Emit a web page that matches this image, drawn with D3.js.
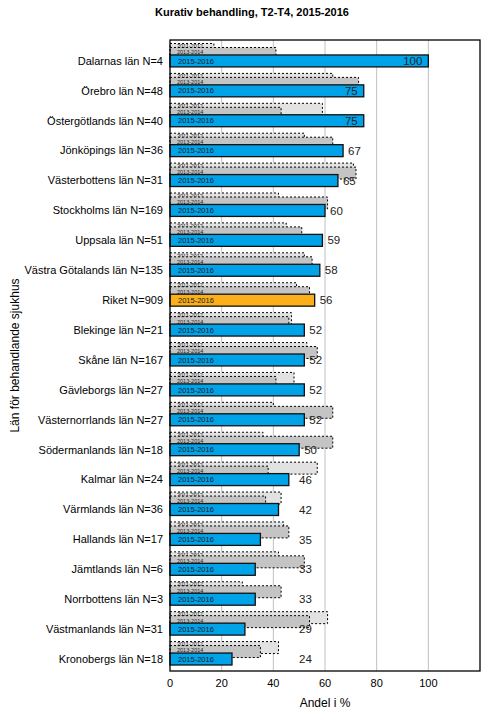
<!DOCTYPE html>
<html><head><meta charset="utf-8">
<script src="https://cdn.jsdelivr.net/npm/d3@7"></script>
<style>body{margin:0;background:#fff}svg{display:block}text{font-family:"Liberation Sans",Arial,sans-serif}</style>
</head><body>
<script>
const categories = ["Dalarnas län N=4","Örebro län N=48","Östergötlands län N=40","Jönköpings län N=36","Västerbottens län N=31","Stockholms län N=169","Uppsala län N=51","Västra Götalands län N=135","Riket N=909","Blekinge län N=21","Skåne län N=167","Gävleborgs län N=27","Västernorrlands län N=27","Södermanlands län N=18","Kalmar län N=24","Värmlands län N=36","Hallands län N=17","Jämtlands län N=6","Norrbottens län N=3","Västmanlands län N=31","Kronobergs län N=18"];
const v2011 = [17,63,59,52,71,42,45,52,49,47,53,48,40,36,57,43,44,42,28,61,42];
const v2013 = [41,73,43,63,72,61,51,55,54,46,57,41,63,63,38,37,46,52,43,54,35];
const v2015 = [100,75,75,67,65,60,59,58,56,52,52,52,52,50,46,42,35,33,33,29,24];
const seriesNames = ["2011-2012","2013-2014","2015-2016"];
const xTicks = [0,20,40,60,80,100];
const title = "Kurativ behandling, T2-T4, 2015-2016";
const xTitle = "Andel i %";
const yTitle = "Län för behandlande sjukhus";

const W = 504, H = 720;
const L = 170, R = 480, T = 40, B = 671;
const svg = d3.select("body").append("svg").attr("width", W).attr("height", H);

const x = d3.scaleLinear().domain([0,120]).range([L, R]);
const y = d3.scaleBand().domain(categories).range([T, 668]).paddingInner(0.2).paddingOuter(0.1);
const sub = d3.scaleBand().domain(seriesNames).range([0, y.bandwidth()]);
const barH = y.bandwidth() / 2;

// gridlines
svg.append("g").selectAll("line").data(xTicks.filter(d => d > 0)).join("line")
  .attr("x1", d => x(d)).attr("x2", d => x(d)).attr("y1", T).attr("y2", B)
  .attr("stroke", "#c0c0c0").attr("stroke-width", 1);

const rows = categories.map((c, i) => ({c, a: v2011[i], b: v2013[i], v: v2015[i]}));
const g = svg.append("g");
const grp = g.selectAll("g").data(rows).join("g").attr("transform", d => `translate(0,${y(d.c)})`);

// 2011-2012
grp.append("rect").attr("x", x(0)).attr("y", 0.5)
  .attr("width", d => x(d.a) - x(0)).attr("height", barH)
  .attr("fill", "#e2e2e2").attr("stroke", "#000").attr("stroke-width", 1).attr("stroke-dasharray", "2,2");
grp.append("text").attr("x", x(0) + 7).attr("y", 5.2).text(seriesNames[0])
  .attr("font-size", 5.5).attr("fill", "#222");
// 2013-2014
grp.append("rect").attr("x", x(0)).attr("y", sub.bandwidth() * 0.5 + 0.5)
  .attr("width", d => x(d.b) - x(0)).attr("height", barH)
  .attr("fill", "#c4c4c4").attr("stroke", "#000").attr("stroke-width", 1).attr("stroke-dasharray", "2,2");
grp.append("text").attr("x", x(0) + 7).attr("y", 11.4).text(seriesNames[1])
  .attr("font-size", 5.5).attr("fill", "#222");
// 2015-2016
grp.append("rect").attr("x", x(0)).attr("y", barH)
  .attr("width", d => x(d.v) - x(0)).attr("height", barH)
  .attr("fill", d => d.c.startsWith("Riket") ? "#fbb01a" : "#00a2e8")
  .attr("stroke", "#111").attr("stroke-width", 1.3);
grp.append("text").attr("x", x(0) + 8).attr("y", barH * 1.5).attr("dy", "0.35em").text(seriesNames[2])
  .attr("font-size", 7.5).attr("fill", "#1a1a1a");
// value labels
grp.append("text")
  .attr("x", d => d.v >= 75 ? x(d.v) - 6 : Math.max(x(d.v), x(48)) + 5)
  .attr("text-anchor", d => d.v >= 75 ? "end" : "start")
  .attr("y", barH * 1.5).attr("dy", "0.36em")
  .attr("font-size", 11.5).attr("fill", "#222").text(d => d.v);

// frame
svg.append("rect").attr("x", L).attr("y", T).attr("width", R - L).attr("height", B - T)
  .attr("fill", "none").attr("stroke", "#000").attr("stroke-width", 1.3);

// category labels
svg.append("g").selectAll("text").data(categories).join("text")
  .attr("x", L - 7).attr("y", d => y(d) + barH * 1.5).attr("dy", "0.35em")
  .attr("text-anchor", "end").attr("font-size", 11).attr("fill", "#000").text(d => d);

// x tick labels
svg.append("g").selectAll("text").data(xTicks).join("text")
  .attr("x", d => x(d)).attr("y", 687).attr("text-anchor", "middle")
  .attr("font-size", 11).attr("fill", "#000").text(d => d);

svg.append("text").attr("x", (L + R) / 2).attr("y", 707).attr("text-anchor", "middle")
  .attr("font-size", 12).text(xTitle);
svg.append("text").attr("transform", `translate(19,${(T + B) / 2}) rotate(-90)`)
  .attr("text-anchor", "middle").attr("font-size", 12).text(yTitle);
svg.append("text").attr("x", 252).attr("y", 16).attr("text-anchor", "middle")
  .attr("font-size", 11).attr("font-weight", "bold").text(title);
</script>
</body></html>
